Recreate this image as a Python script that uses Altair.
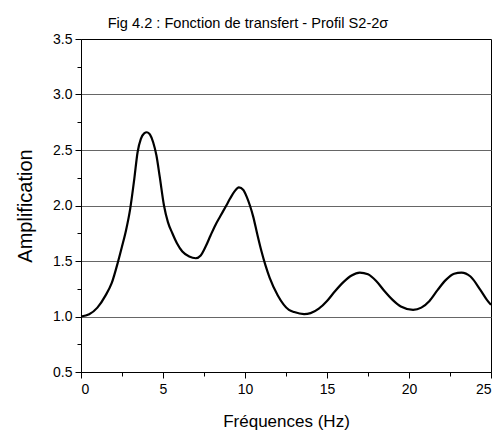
import altair as alt
import pandas as pd

# Transfer function of profile S2-2σ: frequency (Hz) vs amplification
freq = [0, 0.5, 1.0, 1.5, 1.87, 2.27, 2.5, 2.75, 3.0, 3.25, 3.45, 3.65, 3.85,
        4.02, 4.2, 4.4, 4.6, 4.8, 5.06, 5.3, 5.57, 5.85, 6.18, 6.6, 7.0, 7.3,
        7.6, 7.9, 8.2, 8.5, 8.86, 9.1, 9.35, 9.63, 9.9, 10.1, 10.3, 10.5,
        10.75, 11.0, 11.25, 11.5, 12.0, 12.68, 13.0, 13.6, 14.0, 14.5, 15.0,
        15.5, 16.0, 16.5, 17.0, 17.5, 18.0, 18.5, 19.0, 19.5, 20.25, 20.75,
        21.25, 21.75, 22.25, 22.75, 23.2, 23.75, 24.35, 24.75, 25.0]
ampl = [1.0, 1.02, 1.08, 1.19, 1.3, 1.5, 1.63, 1.78, 1.97, 2.24, 2.48, 2.6,
        2.65, 2.66, 2.64, 2.57, 2.45, 2.26, 2.0, 1.85, 1.75, 1.66, 1.585, 1.54,
        1.525, 1.55, 1.63, 1.73, 1.825, 1.905, 2.0, 2.065, 2.125, 2.164, 2.14,
        2.08, 2.0, 1.9, 1.74, 1.59, 1.46, 1.35, 1.19, 1.06, 1.04, 1.022, 1.03,
        1.07, 1.14, 1.23, 1.31, 1.37, 1.396, 1.38, 1.32, 1.23, 1.15, 1.09,
        1.06, 1.08, 1.14, 1.24, 1.33, 1.385, 1.396, 1.36, 1.24, 1.15, 1.105]

x_ticks = [0, 2.5, 5, 7.5, 10, 12.5, 15, 17.5, 20, 22.5, 25]
y_ticks = [0.5, 0.75, 1.0, 1.25, 1.5, 1.75, 2.0, 2.25, 2.5, 2.75, 3.0, 3.25, 3.5]

df = pd.DataFrame({"f": freq, "a": ampl})

FONT = "Liberation Sans"
x_major = "abs(datum.value / 5 - round(datum.value / 5)) < 0.001"
y_major = "abs(datum.value * 2 - round(datum.value * 2)) < 0.001"
y_grid = y_major + " && datum.value > 0.6 && datum.value < 3.4"

chart = alt.Chart(df).mark_line(
    color="black", strokeWidth=2.2, interpolate="monotone"
).encode(
    x=alt.X("f:Q", title="Fréquences (Hz)",
            scale=alt.Scale(domain=[0, 25], nice=False, zero=False),
            axis=alt.Axis(values=x_ticks, grid=False,
                          labelExpr=f"({x_major}) ? format(datum.value, 'd') : ''",
                          tickSize={"condition": {"test": x_major, "value": 6}, "value": 4},
                          labelFont=FONT, labelFontSize=14,
                          titleFont=FONT, titleFontSize=17,
                          labelPadding=4, titlePadding=17)),
    y=alt.Y("a:Q", title="Amplification",
            scale=alt.Scale(domain=[0.5, 3.5], nice=False, zero=False),
            axis=alt.Axis(values=y_ticks,
                          labelExpr=f"({y_major}) ? format(datum.value, '.1f') : ''",
                          tickSize={"condition": {"test": y_major, "value": 6}, "value": 4},
                          gridOpacity={"condition": {"test": y_grid, "value": 1}, "value": 0},
                          gridColor="#666666", gridWidth=1,
                          labelFont=FONT, labelFontSize=14,
                          titleFont=FONT, titleFontSize=20,
                          labelPadding=3, titlePadding=17)),
).properties(
    width=410, height=333,
    background="white",
    title=alt.TitleParams("Fig 4.2 : Fonction de transfert - Profil S2-2σ",
                          font=FONT, fontSize=14.6, fontWeight="normal",
                          color="black", offset=1, dx=-38),
    autosize=alt.AutoSizeParams(type="none"),
    padding={"left": 81, "top": 39, "right": 10, "bottom": 58},
).configure_axis(
    domainColor="black", tickColor="black", labelColor="black",
    titleColor="black", titleFontWeight="normal",
    domainWidth=1, tickWidth=1,
).configure_view(
    stroke="black", strokeWidth=1
)

chart.save("out.html", embed_options={"renderer": "svg", "actions": False})
